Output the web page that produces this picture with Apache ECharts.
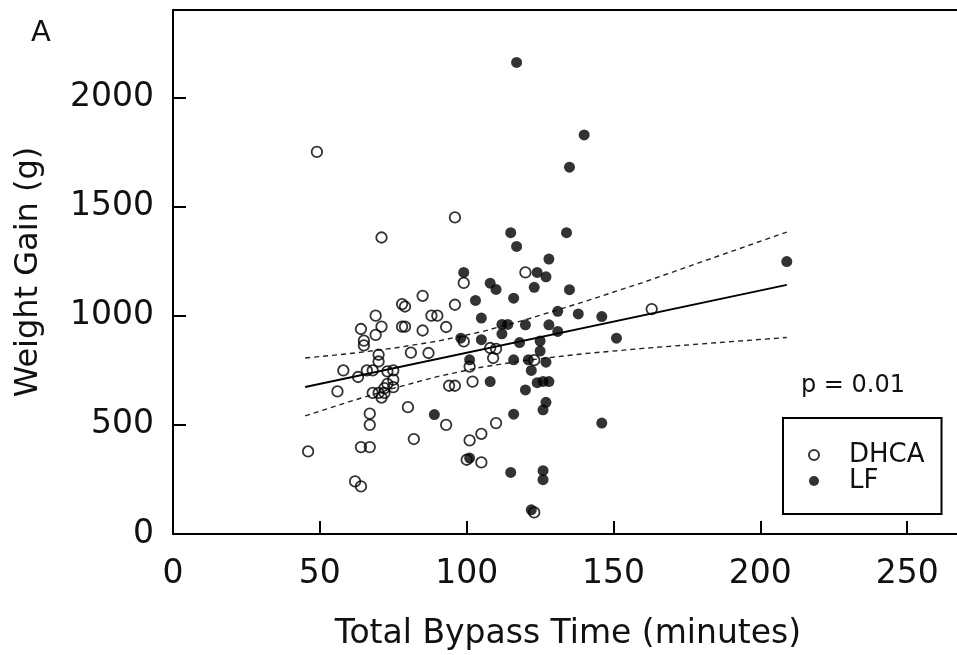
<!DOCTYPE html>
<html>
<head>
<meta charset="utf-8">
<script src="https://cdn.jsdelivr.net/npm/echarts@6/dist/echarts.min.js"></script>
<style>
html,body{margin:0;padding:0;background:#fff;}
#chart{width:957px;height:655px;}
</style>
</head>
<body>
<div id="chart"></div>
<script>
// DHCA (open circles)
const dhcaTime = [49,71,96,99,85,78,79,96,69,88, 90,71,64,78,79,85,93,69,65,65, 81,87,70,70,58,63,66,68,73,75, 75,73,72,75,68,70,72,71,56,94, 96,80,67,67,93,82,46,64,67,62, 64,100,110,105,101,105,123,99,108,110, 109,101,123,102,120,163];
const dhcaGain = [1750,1358,1450,1150,1091,1053,1042,1050,1000,1000, 1000,950,939,950,950,932,948,912,886,864, 831,829,821,790,749,719,749,749,745,749, 707,688,668,673,646,646,646,625,653,679, 679,581,551,500,500,435,378,398,398,241, 218,340,508,459,429,328,99,882,852,848, 806,767,796,698,1198,1030];
// LF (filled circles)
const lfTime = [117,140,135,115,134,117,128,99,124,127, 108,110,123,135,103,116,131,138,146,105, 112,114,120,128,131,112,98,105,118,125, 125,151,101,116,121,127,122,124,126,128, 108,120,127,126,116,89,146,101,115,126, 126,122,209];
const lfGain = [2160,1828,1680,1380,1380,1317,1259,1198,1198,1178, 1149,1120,1130,1119,1070,1080,1020,1008,996,989, 960,960,958,958,928,917,897,890,877,884, 838,897,798,798,798,787,749,693,699,698, 698,660,603,569,549,547,508,348,282,290, 249,111,1248];
// regression line and confidence band
const fitTime = [45, 209];
const fitGain = [673, 1141];
const ciTime  = [45, 60, 75, 90, 105, 120, 140, 160, 185, 209];
const ciUpper = [806, 826, 851, 883, 926, 981, 1064, 1152, 1270, 1383];
const ciLower = [541, 606, 667, 721, 764, 795, 826, 850, 876, 900];
const seriesNames = ['DHCA', 'LF'];
const panelLabel = 'A';
const pText = 'p = 0.01';
const xName = 'Total Bypass Time (minutes)';
const yName = 'Weight Gain (g)';

const zip = (a, b) => a.map((v, i) => [v, b[i]]);
const FONT = 'DejaVu Sans';
const INK = '#111';

const chart = echarts.init(document.getElementById('chart'), null, {renderer: 'canvas'});
chart.setOption({
  animation: false,
  backgroundColor: '#fff',
  title: [
    {text: panelLabel, left: 31, top: 19, padding: 0,
     textStyle: {fontFamily: FONT, fontSize: 29, fontWeight: 'normal', color: INK}},
    {text: pText, left: 801, top: 374, padding: 0,
     textStyle: {fontFamily: FONT, fontSize: 24, fontWeight: 'normal', color: INK}}
  ],
  grid: {left: 173, top: 10, width: 790, height: 524, show: true,
         outerBoundsMode: 'none', containLabel: false,
         borderColor: '#000', borderWidth: 2, backgroundColor: 'transparent'},
  legend: {
    data: [{name: seriesNames[0], icon: 'circle'}, {name: seriesNames[1], icon: 'circle'}],
    orient: 'vertical', left: 783, top: 418,
    padding: [24, 17, 20, 25],
    itemWidth: 60, itemHeight: 10, itemGap: 0,
    borderColor: '#000', borderWidth: 2,
    textStyle: {fontFamily: FONT, fontSize: 26, lineHeight: 24, color: INK}
  },
  xAxis: {
    type: 'value', min: 0, max: 269, interval: 50,
    name: xName, nameLocation: 'middle', nameGap: 84,
    nameTextStyle: {fontFamily: FONT, fontSize: 33, color: INK},
    axisLine: {lineStyle: {color: '#000', width: 2}},
    axisTick: {inside: true, length: 13, lineStyle: {color: '#000', width: 2}},
    axisLabel: {fontFamily: FONT, fontSize: 33, color: INK, margin: 24,
                formatter: v => (v % 50 === 0 ? String(v) : '')},
    splitLine: {show: false}
  },
  yAxis: {
    type: 'value', min: 0, max: 2400, interval: 500,
    name: yName, nameLocation: 'middle', nameGap: 128, nameRotate: 90,
    nameTextStyle: {fontFamily: FONT, fontSize: 32, color: INK},
    axisLine: {lineStyle: {color: '#000', width: 2}},
    axisTick: {inside: true, length: 13, lineStyle: {color: '#000', width: 2}},
    axisLabel: {fontFamily: FONT, fontSize: 33, color: INK, margin: 19,
                formatter: v => (v % 500 === 0 ? String(v) : '')},
    splitLine: {show: false}
  },
  series: [
    {name: 'fit', type: 'line', data: zip(fitTime, fitGain), symbol: 'none', silent: true,
     lineStyle: {color: '#000', width: 2}, z: 3},
    {name: 'upper', type: 'line', data: zip(ciTime, ciUpper), symbol: 'none', silent: true,
     lineStyle: {color: '#222', width: 1.4, type: [5, 4]}, z: 3},
    {name: 'lower', type: 'line', data: zip(ciTime, ciLower), symbol: 'none', silent: true,
     lineStyle: {color: '#222', width: 1.4, type: [5, 4]}, z: 3},
    {name: seriesNames[0], type: 'scatter', data: zip(dhcaTime, dhcaGain),
     symbol: 'circle', symbolSize: 10.5,
     itemStyle: {color: 'rgba(255,255,255,0)', borderColor: '#000', borderWidth: 1.8}, z: 4},
    {name: seriesNames[1], type: 'scatter', data: zip(lfTime, lfGain),
     symbol: 'circle', symbolSize: 11,
     itemStyle: {color: '#000', borderColor: '#000', borderWidth: 0}, z: 5}
  ]
});
</script>
</body>
</html>
